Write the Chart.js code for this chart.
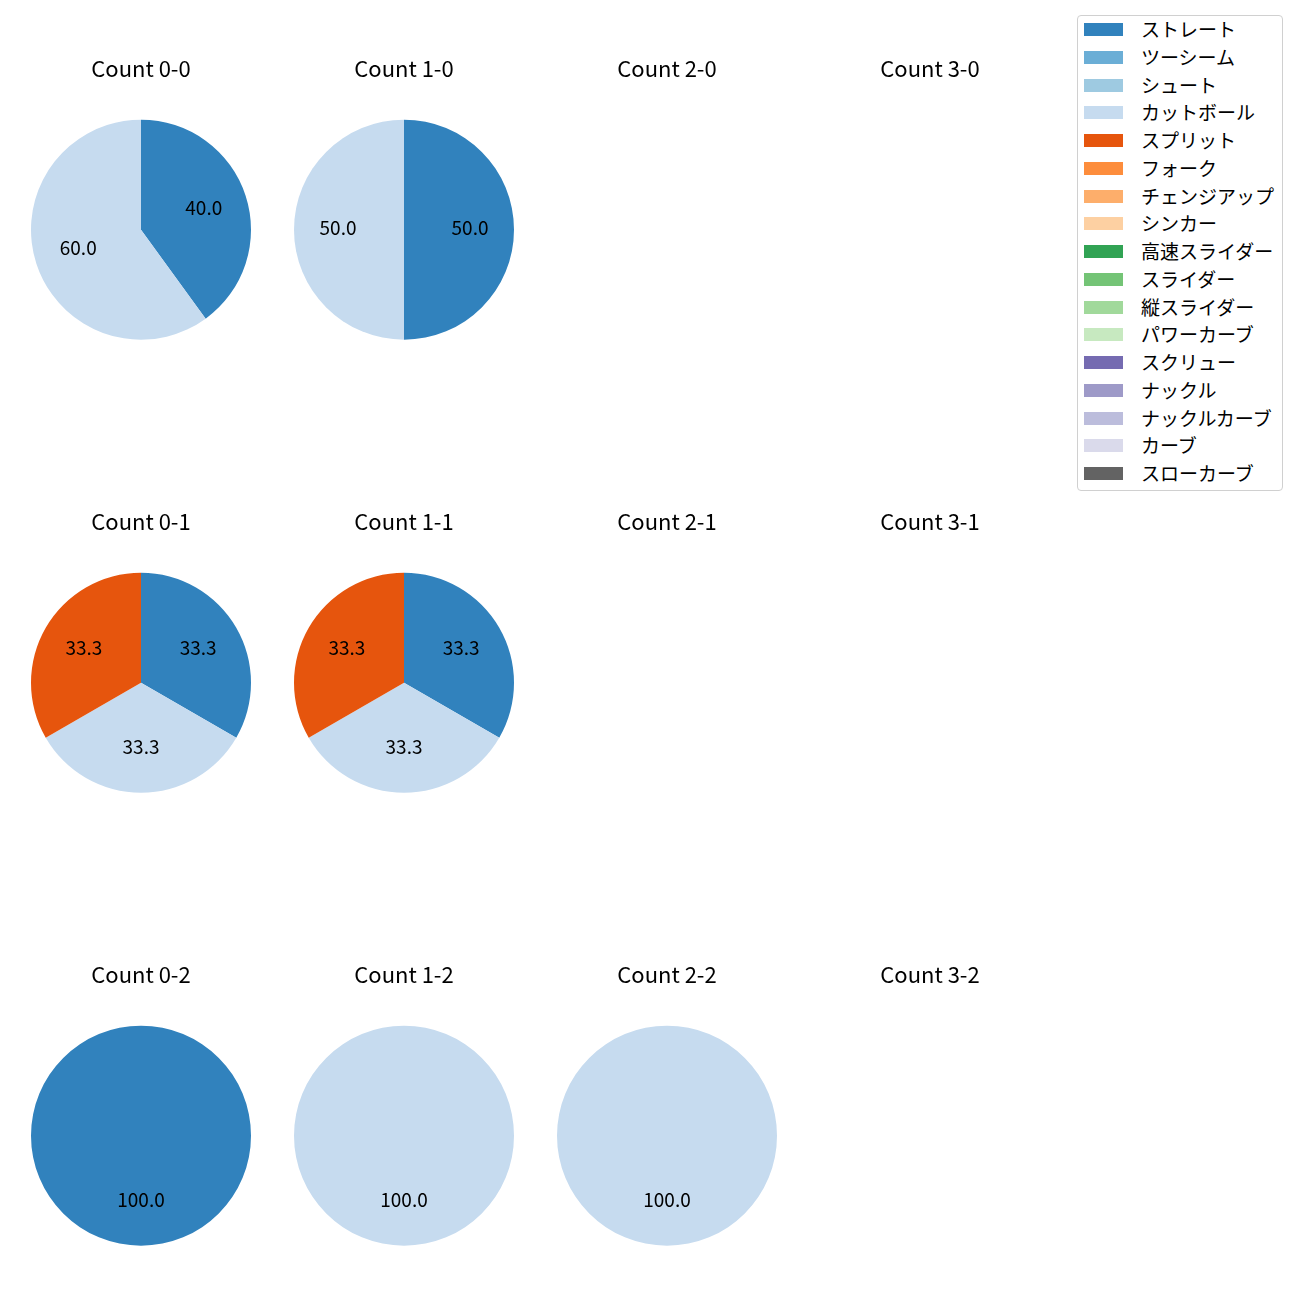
<!DOCTYPE html>
<html>
<head>
<meta charset="utf-8">
<script src="https://cdn.jsdelivr.net/npm/chart.js@4/dist/chart.umd.min.js"></script>
<style>
  body { margin: 0; background: #fff; font-family: "Noto Sans CJK JP", sans-serif; }
  #page { position: relative; width: 1300px; height: 1300px; }
  .pie { position: absolute; width: 240px; height: 300px; }
  #legend {
    position: absolute; left: 1077px; top: 15px; width: 204px; height: 474px;
    border: 1px solid #d0d0d0; border-radius: 4px; background: #fff;
  }
  .item { position: absolute; left: 0; height: 20px; }
  .patch { position: absolute; left: 6px; top: 3px; width: 39px; height: 13px; }
  .label { position: absolute; left: 63px; top: -4px; font-size: 19px; line-height: 26px; color: #000; white-space: nowrap; }
</style>
</head>
<body>
<div id="page">
  <div id="legend"></div>
</div>
<script>
'use strict';

let pitchTypes = ['ストレート', 'ツーシーム', 'シュート', 'カットボール', 'スプリット', 'フォーク', 'チェンジアップ', 'シンカー',
  '高速スライダー', 'スライダー', '縦スライダー', 'パワーカーブ', 'スクリュー', 'ナックル', 'ナックルカーブ', 'カーブ', 'スローカーブ'];
let pitchColors = ['#3182bd', '#6baed6', '#9ecae1', '#c6dbef', '#e6550d', '#fd8d3c', '#fdae6b', '#fdd0a2',
  '#31a354', '#74c476', '#a1d99b', '#c7e9c0', '#756bb1', '#9e9ac8', '#bcbddc', '#dadaeb', '#636363'];

let countLabels = ['0-0', '1-0', '2-0', '3-0', '0-1', '1-1', '2-1', '3-1', '0-2', '1-2', '2-2', '3-2'];

// pitches thrown per count, same order as pitchTypes
let count00 = [2, 0, 0, 3, 0, 0, 0, 0, 0, 0, 0, 0, 0, 0, 0, 0, 0];
let count10 = [1, 0, 0, 1, 0, 0, 0, 0, 0, 0, 0, 0, 0, 0, 0, 0, 0];
let count20 = [];
let count30 = [];
let count01 = [1, 0, 0, 1, 1, 0, 0, 0, 0, 0, 0, 0, 0, 0, 0, 0, 0];
let count11 = [1, 0, 0, 1, 1, 0, 0, 0, 0, 0, 0, 0, 0, 0, 0, 0, 0];
let count21 = [];
let count31 = [];
let count02 = [1, 0, 0, 0, 0, 0, 0, 0, 0, 0, 0, 0, 0, 0, 0, 0, 0];
let count12 = [0, 0, 0, 1, 0, 0, 0, 0, 0, 0, 0, 0, 0, 0, 0, 0, 0];
let count22 = [0, 0, 0, 1, 0, 0, 0, 0, 0, 0, 0, 0, 0, 0, 0, 0, 0];
let count32 = [];

let countData = [count00, count10, count20, count30, count01, count11, count21, count31, count02, count12, count22, count32];

let page = document.getElementById('page');
let fontFamily = '"Noto Sans CJK JP", sans-serif';

// percent labels at 0.6 of the radius, like matplotlib autopct
let pctLabels = {
  id: 'pctLabels',
  afterDatasetsDraw(chart) {
    let ctx = chart.ctx;
    let data = chart.data.datasets[0].data;
    let total = data.reduce((a, b) => a + b, 0);
    if (!total) return;
    let meta = chart.getDatasetMeta(0);
    ctx.save();
    ctx.font = '19px ' + fontFamily;
    ctx.fillStyle = '#000';
    ctx.textAlign = 'center';
    ctx.textBaseline = 'middle';
    meta.data.forEach((arc, i) => {
      if (!data[i]) return;
      let mid = (arc.startAngle + arc.endAngle) / 2;
      let r = arc.outerRadius * 0.6;
      let x = arc.x + r * Math.cos(mid);
      let y = arc.y + r * Math.sin(mid) - 2;
      ctx.fillText((data[i] / total * 100).toFixed(1), x, y);
    });
    ctx.restore();
  }
};

for (let k = 0; k < countLabels.length; k++) {
  let col = k % 4;
  let row = Math.floor(k / 4);
  let cx = 141 + 263 * col;
  let cy = 229.5 + 453 * row;

  let canvas = document.createElement('canvas');
  canvas.className = 'pie';
  canvas.width = 240;
  canvas.height = 300;
  canvas.style.left = (cx - 120) + 'px';
  canvas.style.top = (cy - 180) + 'px';
  page.appendChild(canvas);

  let values = countData[k];
  new Chart(canvas.getContext('2d'), {
    type: 'pie',
    data: {
      labels: values.length ? pitchTypes : [],
      datasets: [{
        data: values,
        backgroundColor: pitchColors,
        borderWidth: 0,
        hoverOffset: 0
      }]
    },
    options: {
      responsive: false,
      animation: false,
      layout: { padding: { left: 10, right: 10, top: 0, bottom: 10 } },
      plugins: {
        legend: { display: false },
        tooltip: { enabled: false },
        title: {
          display: true,
          text: 'Count ' + countLabels[k],
          color: '#000',
          font: { family: fontFamily, size: 22, weight: 'normal', lineHeight: 1.2 },
          padding: { top: 5, bottom: 38 }
        }
      }
    },
    plugins: [pctLabels]
  });
}

let legend = document.getElementById('legend');
for (let i = 0; i < pitchTypes.length; i++) {
  let item = document.createElement('div');
  item.className = 'item';
  item.style.top = (4 + 27.75 * i) + 'px';
  let patch = document.createElement('div');
  patch.className = 'patch';
  patch.style.background = pitchColors[i];
  let label = document.createElement('div');
  label.className = 'label';
  label.textContent = pitchTypes[i];
  item.appendChild(patch);
  item.appendChild(label);
  legend.appendChild(item);
}
</script>
</body>
</html>
